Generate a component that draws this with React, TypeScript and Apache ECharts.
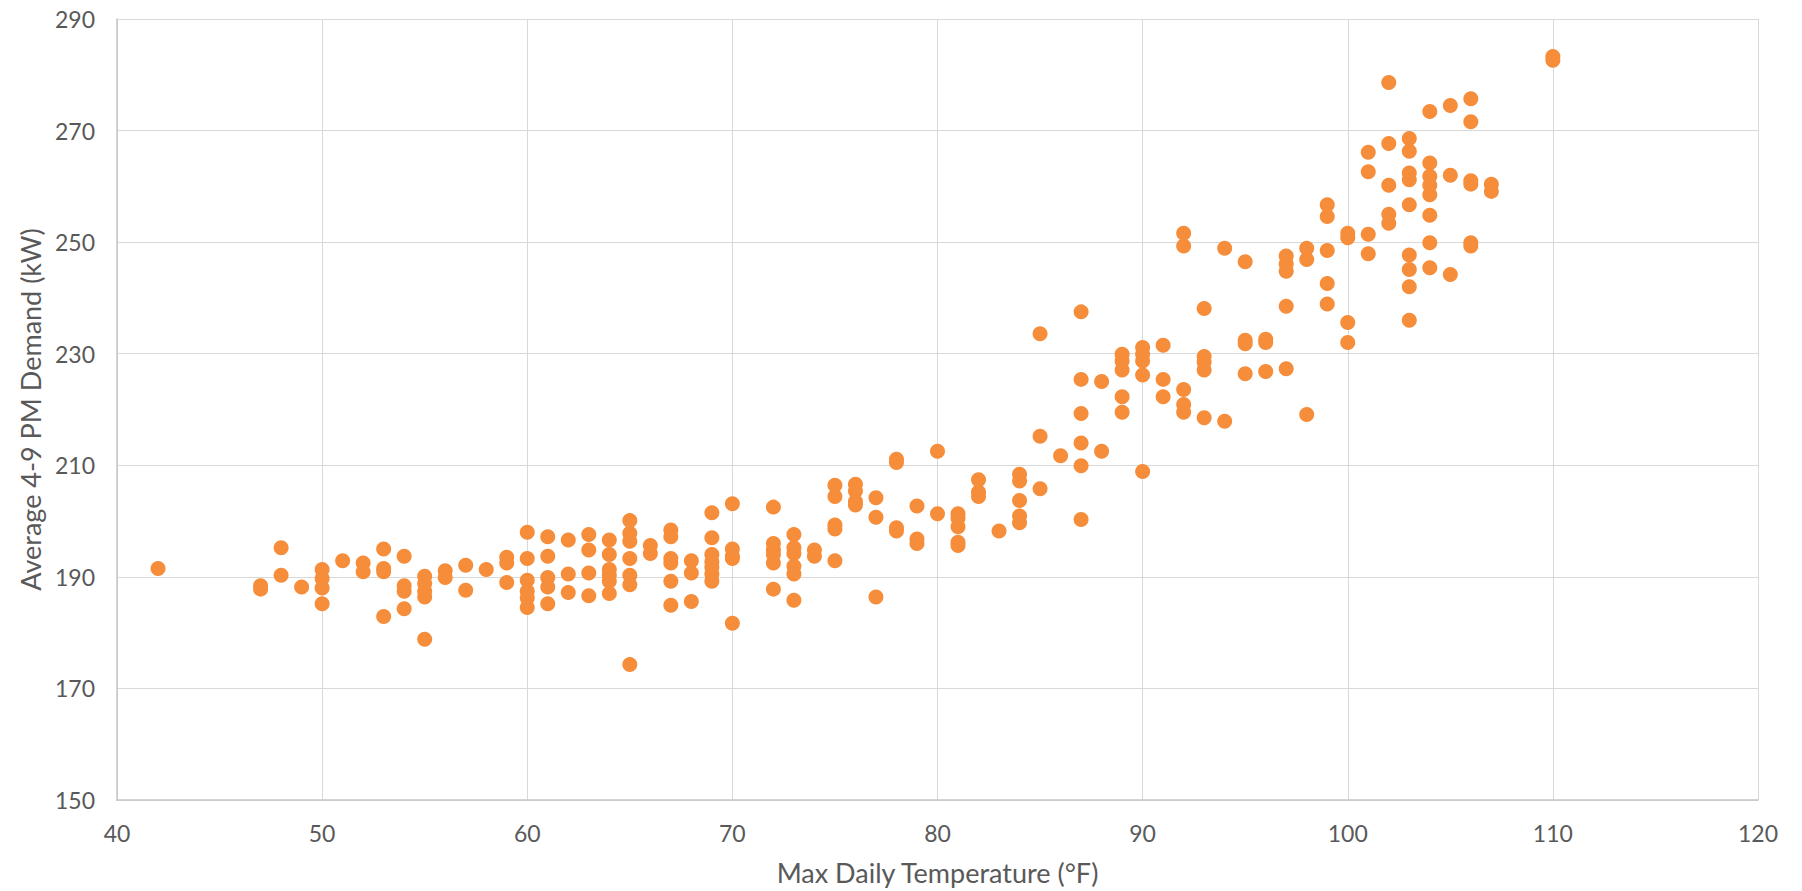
import React, { useEffect, useRef } from "react";
import * as echarts from "echarts";

// Max daily temperature (°F) for each day
const temperatures: number[] = [
  42,
  47, 47,
  48, 48,
  49,
  50, 50, 50, 50,
  51,
  52, 52,
  53, 53, 53, 53,
  54, 54, 54, 54,
  55, 55, 55, 55, 55,
  56, 56,
  57, 57,
  58,
  59, 59, 59,
  60, 60, 60, 60, 60, 60,
  61, 61, 61, 61, 61,
  62, 62, 62,
  63, 63, 63, 63,
  64, 64, 64, 64, 64, 64,
  65, 65, 65, 65, 65, 65, 65,
  66, 66,
  67, 67, 67, 67, 67, 67,
  68, 68, 68,
  69, 69, 69, 69, 69, 69, 69,
  70, 70, 70, 70, 70,
  72, 72, 72, 72, 72, 72,
  73, 73, 73, 73, 73, 73,
  74, 74,
  75, 75, 75, 75, 75,
  76, 76, 76, 76,
  77, 77, 77,
  78, 78, 78, 78,
  79, 79, 79,
  80, 80,
  81, 81, 81, 81, 81,
  82, 82, 82,
  83,
  84, 84, 84, 84, 84,
  85, 85, 85,
  86,
  87, 87, 87, 87, 87, 87,
  88, 88,
  89, 89, 89, 89, 89,
  90, 90, 90, 90, 90,
  91, 91, 91,
  92, 92, 92, 92, 92,
  93, 93, 93, 93, 93,
  94, 94,
  95, 95, 95, 95,
  96, 96, 96,
  97, 97, 97, 97, 97,
  98, 98, 98,
  99, 99, 99, 99, 99,
  100, 100, 100, 100,
  101, 101, 101, 101,
  102, 102, 102, 102, 102,
  103, 103, 103, 103, 103, 103, 103, 103, 103,
  104, 104, 104, 104, 104, 104, 104, 104,
  105, 105, 105,
  106, 106, 106, 106, 106, 106,
  107, 107,
  110, 110,
];

// Average 4-9 PM demand (kW) for the same days
const demands: number[] = [
  191.5,
  188.4, 187.8,
  195.2, 190.3,
  188.2,
  191.3, 189.7, 188.0, 185.2,
  192.9,
  192.5, 190.9,
  195.0, 191.5, 190.9, 182.9,
  193.7, 188.4, 187.4, 184.3,
  190.1, 188.8, 187.4, 186.4, 178.8,
  191.1, 189.9,
  192.1, 187.6,
  191.3,
  193.5, 192.5, 189.0,
  198.0, 193.3, 189.4, 187.4, 186.2, 184.5,
  197.2, 193.7, 189.9, 188.2, 185.2,
  196.6, 190.5, 187.2,
  197.6, 194.8, 190.7, 186.6,
  196.6, 194.0, 191.3, 190.3, 189.2, 187.0,
  200.1, 197.8, 196.4, 193.3, 190.3, 188.6, 174.3,
  195.6, 194.2,
  198.4, 197.2, 193.3, 192.5, 189.2, 184.9,
  192.9, 190.7, 185.6,
  201.5, 197.0, 194.0, 192.7, 191.7, 190.5, 189.2,
  203.1, 195.0, 193.7, 193.3, 181.7,
  202.5, 196.0, 194.8, 194.0, 192.5, 187.8,
  197.6, 195.2, 194.2, 191.9, 190.5, 185.8,
  194.8, 193.7,
  206.4, 204.4, 199.3, 198.6, 192.9,
  206.6, 205.4, 203.5, 202.9,
  204.2, 200.7, 186.4,
  211.1, 210.5, 198.8, 198.2,
  202.7, 196.8, 196.0,
  212.5, 201.3,
  201.3, 200.5, 199.0, 196.2, 195.6,
  207.4, 205.2, 204.4,
  198.2,
  208.4, 207.2, 203.7, 200.9, 199.7,
  233.6, 215.2, 205.8,
  211.7,
  237.5, 225.4, 219.3, 214.0, 209.9, 200.3,
  225.0, 212.5,
  229.9, 228.7, 227.1, 222.3, 219.5,
  231.1, 229.9, 228.7, 226.2, 208.9,
  231.5, 225.4, 222.3,
  251.6, 249.3, 223.6, 220.9, 219.5,
  238.1, 229.5, 228.5, 227.1, 218.5,
  248.9, 217.9,
  246.5, 232.4, 231.8, 226.4,
  232.6, 232.0, 226.8,
  247.5, 246.1, 244.8, 238.5, 227.3,
  248.9, 246.9, 219.1,
  256.7, 254.6, 248.5, 242.6, 238.9,
  251.6, 250.8, 235.6, 232.0,
  266.1, 262.6, 251.4, 247.9,
  278.6, 267.7, 260.2, 255.0, 253.4,
  268.6, 266.3, 262.4, 261.2, 256.7, 247.7, 245.1, 242.0, 236.0,
  273.4, 264.2, 261.8, 260.2, 258.5, 254.8, 249.9, 245.4,
  274.5, 262.0, 244.2,
  275.7, 271.6, 261.0, 260.4, 249.9, 249.3,
  260.4, 259.1,
  283.3, 282.6,
];

const xTitle = "Max Daily Temperature (°F)";
const yTitle = "Average 4-9 PM Demand (kW)";

export default function App() {
  const ref = useRef<HTMLDivElement>(null);

  useEffect(() => {
    if (!ref.current) return;
    const chart = echarts.init(ref.current, undefined, { renderer: "svg" });
    const points = temperatures.map((t, i) => [t, demands[i]]);
    const textColor = "#595959";
    const font = "Lato, 'Open Sans', sans-serif";
    chart.setOption({
      animation: false,
      backgroundColor: "#ffffff",
      grid: { left: 117, right: 44, top: 19, bottom: 86, containLabel: false },
      xAxis: {
        type: "value",
        min: 40,
        max: 120,
        interval: 10,
        name: xTitle,
        nameLocation: "middle",
        nameGap: 59,
        nameTextStyle: { color: textColor, fontSize: 27, fontFamily: font },
        axisLine: { show: true, lineStyle: { color: "#c6c6c6", width: 1.5 } },
        axisTick: { show: false },
        axisLabel: { color: textColor, fontSize: 23, fontFamily: font, margin: 21 },
        splitLine: { show: true, lineStyle: { color: "#d9d9d9", width: 1 } },
      },
      yAxis: {
        type: "value",
        min: 150,
        max: 290,
        interval: 20,
        name: yTitle,
        nameLocation: "middle",
        nameGap: 72,
        nameTextStyle: { color: textColor, fontSize: 27, fontFamily: font },
        axisLine: { show: true, lineStyle: { color: "#c6c6c6", width: 1.5 } },
        axisTick: { show: false },
        axisLabel: { color: textColor, fontSize: 23, fontFamily: font, margin: 22 },
        splitLine: { show: true, lineStyle: { color: "#d9d9d9", width: 1 } },
      },
      series: [
        {
          type: "scatter",
          data: points,
          symbol: "circle",
          symbolSize: 15,
          itemStyle: { color: "#F68D3A", opacity: 1 },
        },
      ],
    });
    return () => chart.dispose();
  }, []);

  return (
    <div
      ref={ref}
      style={{ position: "fixed", left: 0, top: 0, width: 1802, height: 891, background: "#fff" }}
    />
  );
}
